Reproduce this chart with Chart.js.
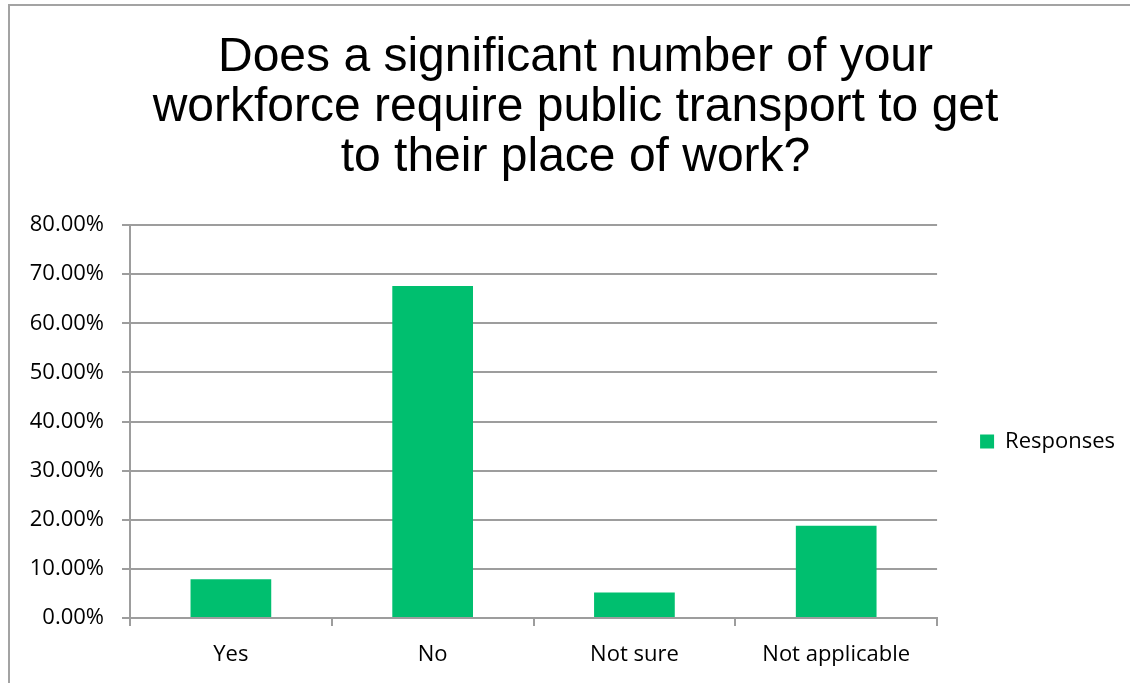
<!DOCTYPE html>
<html>
<head>
<meta charset="utf-8">
<script src="https://cdn.jsdelivr.net/npm/chart.js@4.4.1/dist/chart.umd.min.js"></script>
<style>
  html, body { margin: 0; padding: 0; background: #fff; }
  body { width: 1130px; height: 683px; position: relative; overflow: hidden; }
  #frame { position: absolute; left: 8px; top: 4px; width: 1130px; height: 690px;
           border-top: 2px solid #a3a3a3; border-left: 2px solid #a3a3a3; box-sizing: border-box; }
  #wrap { position: absolute; left: -12px; top: 0; width: 1142px; height: 683px; }
</style>
</head>
<body>
<div id="frame"></div>
<div id="wrap"><canvas id="c" width="1142" height="683"></canvas></div>
<script>
const titleLines = ['Does a significant number of your', 'workforce require public transport to get', 'to their place of work?'];
const categories = ['Yes', 'No', 'Not sure', 'Not applicable'];
const seriesName = 'Responses';
const responses = [7.9, 67.6, 5.2, 18.8];
const yMax = 80;
const yStep = 10;

const gridColor = '#9d9d9d';
const tickFont = { family: 'Open Sans', size: 22 };

new Chart(document.getElementById('c'), {
  type: 'bar',
  data: {
    labels: categories,
    datasets: [{
      label: seriesName,
      data: responses,
      backgroundColor: '#00bf6f',
      borderWidth: 0,
      barPercentage: 0.4,
      categoryPercentage: 1.0
    }]
  },
  options: {
    responsive: false,
    animation: false,
    layout: { padding: { left: 38, right: 5, top: 0, bottom: 0 } },
    plugins: {
      tooltip: { enabled: false },
      title: {
        display: true,
        text: titleLines,
        color: '#000',
        font: { family: 'Liberation Sans', size: 48, weight: 'normal', lineHeight: 50 / 48 },
        padding: { top: 33, bottom: 42 }
      },
      legend: {
        display: true,
        position: 'right',
        fullSize: false,
        title: { display: true, text: ' ', font: { size: 10, lineHeight: 1.2 }, padding: { top: 14, bottom: 14 } },
        labels: {
          boxWidth: 14,
          boxHeight: 14,
          padding: 43,
          color: '#000',
          font: tickFont
        }
      }
    },
    scales: {
      x: {
        offset: true,
        afterFit: (scale) => { scale.height = 65; },
        grid: { offset: true, drawOnChartArea: false, drawTicks: true, tickLength: 8, color: gridColor, lineWidth: 2 },
        border: { color: gridColor, width: 2 },
        ticks: { color: '#000', font: tickFont, padding: 16, maxRotation: 0 }
      },
      y: {
        min: 0,
        max: yMax,
        afterFit: (scale) => { scale.width = 104; },
        grid: { color: gridColor, lineWidth: 2, tickLength: 8 },
        border: { color: gridColor, width: 2 },
        ticks: {
          stepSize: yStep,
          color: '#000',
          font: tickFont,
          padding: 18,
          callback: (v) => v.toFixed(2) + '%'
        }
      }
    }
  }
});
</script>
</body>
</html>
